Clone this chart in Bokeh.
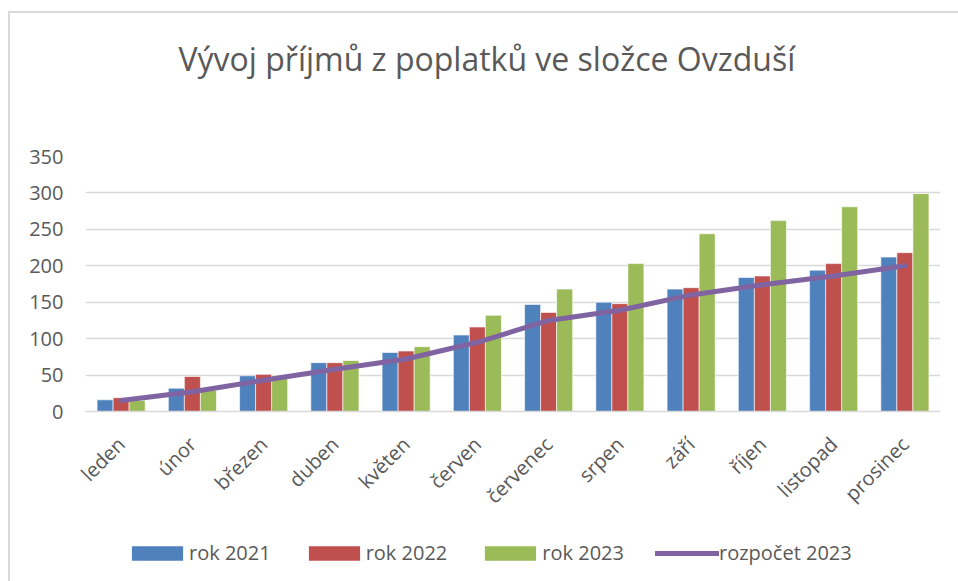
import math
from bokeh.plotting import figure
from bokeh.layouts import column
from bokeh.models import (ColumnDataSource, FactorRange, Range1d, FixedTicker,
                          Legend, LegendItem, Label)
from bokeh.transform import dodge
from bokeh.embed import file_html
from bokeh.resources import INLINE

months = ["leden", "únor", "březen", "duben", "květen", "červen",
          "červenec", "srpen", "září", "říjen", "listopad", "prosinec"]
rok_2021 = [16, 32, 49, 67, 81, 105, 147, 150, 168, 184, 194, 212]
rok_2022 = [19, 48, 51, 67, 83, 116, 136, 148, 170, 186, 203, 218]
rok_2023 = [15, 29, 49, 70, 89, 132, 168, 203, 244, 262, 281, 299]
rozpocet_2023 = [15, 27, 43, 58, 72, 95, 125, 139, 160, 174, 186, 200]
y_ticks = [0, 50, 100, 150, 200, 250, 300, 350]
series_labels = ["rok 2021", "rok 2022", "rok 2023", "rozpočet 2023"]

title_text = "Vývoj příjmů z poplatků ve složce Ovzduší"
FONT = "Open Sans"
TXT = "#595959"
GRID = "#d9d9d9"
C21, C22, C23, CB = "#4F81BD", "#C0504D", "#9BBB59", "#8064A2"
W = 948
FRAME_W = 855  # plot frame width (frames of the column are aligned)


def blank(height):
    f = figure(width=W, height=height, x_range=Range1d(0, FRAME_W),
               y_range=Range1d(0, height),
               output_backend="svg", toolbar_location=None, tools="",
               x_axis_location=None, y_axis_location=None, min_border=0)
    f.xgrid.grid_line_color = None
    f.ygrid.grid_line_color = None
    f.outline_line_color = None
    f.background_fill_color = "white"
    f.border_fill_color = "white"
    return f


# ---- header with the title ----
hdr = blank(100)
hdr.add_layout(Label(x=93, y=55, text=title_text, text_font=FONT,
                     text_font_size="32px", text_color=TXT,
                     text_align="left", text_baseline="middle"))

# ---- main chart ----
src = ColumnDataSource(dict(month=months, r21=rok_2021, r22=rok_2022,
                            r23=rok_2023, bud=rozpocet_2023))

p = figure(x_range=FactorRange(*months), y_range=Range1d(0, 350),
           width=W, height=415, output_backend="svg",
           toolbar_location=None, tools="",
           min_border_left=75, min_border_right=18,
           min_border_top=43, min_border_bottom=117)
p.outline_line_color = None
p.background_fill_color = "white"
p.border_fill_color = "white"

bw = 0.225
bar_style = dict(line_color="white", line_alpha=0.6, line_width=1)
p.vbar(x=dodge("month", -bw, range=p.x_range), top="r21", width=bw, source=src,
       fill_color=C21, **bar_style)
p.vbar(x=dodge("month", 0.0, range=p.x_range), top="r22", width=bw, source=src,
       fill_color=C22, **bar_style)
p.vbar(x=dodge("month", bw, range=p.x_range), top="r23", width=bw, source=src,
       fill_color=C23, **bar_style)
p.line(x="month", y="bud", source=src, line_color=CB, line_width=5,
       line_join="round", line_cap="round")

p.yaxis.ticker = FixedTicker(ticks=y_ticks)
p.yaxis.axis_line_color = None
p.yaxis.major_tick_line_color = None
p.yaxis.major_tick_out = 0
p.yaxis.major_tick_in = 0
p.yaxis.minor_tick_line_color = None
p.yaxis.major_label_standoff = 22
p.yaxis.major_label_text_font = FONT
p.yaxis.major_label_text_font_size = "20px"
p.yaxis.major_label_text_color = TXT

p.xaxis.axis_line_color = GRID
p.xaxis.axis_line_width = 1.5
p.xaxis.major_tick_line_color = None
p.xaxis.major_tick_out = 0
p.xaxis.major_tick_in = 0
p.xaxis.minor_tick_line_color = None
p.xaxis.major_label_orientation = math.pi / 4
p.xaxis.major_label_standoff = 29
p.xaxis.major_label_text_font = FONT
p.xaxis.major_label_text_font_size = "20px"
p.xaxis.major_label_text_color = TXT

p.xgrid.grid_line_color = None
p.ygrid.grid_line_color = GRID
p.ygrid.grid_line_width = 1.3

# ---- legend row (zero-size proxy glyphs carry the legend styles) ----
lg = blank(53)
proxy = ColumnDataSource(dict(x=[0], y=[0]))
e1 = lg.vbar(x="x", top="y", width=0, source=proxy, fill_color=C21, line_color=None)
e2 = lg.vbar(x="x", top="y", width=0, source=proxy, fill_color=C22, line_color=None)
e3 = lg.vbar(x="x", top="y", width=0, source=proxy, fill_color=C23, line_color=None)
e4 = lg.line(x="x", y="y", source=proxy, line_color=CB, line_width=5, line_cap="round")
legend = Legend(items=[LegendItem(label=lab, renderers=[r])
                       for lab, r in zip(series_labels, [e1, e2, e3, e4])],
                orientation="horizontal", location=(40, 15))
legend.margin = 0
legend.padding = 0
legend.spacing = 31
legend.glyph_width = 64
legend.glyph_height = 18
legend.label_standoff = 0
legend.label_text_font = FONT
legend.label_text_font_size = "20px"
legend.label_text_color = TXT
legend.border_line_color = None
legend.background_fill_alpha = 0
lg.add_layout(legend, "center")

layout = column(hdr, p, lg, spacing=0)
layout.styles = {"border-left": "2px solid #d9d9d9", "border-top": "2px solid #d9d9d9",
                 "margin-top": "11px", "margin-left": "8px"}

open("out.html", "w").write(file_html(layout, INLINE))
